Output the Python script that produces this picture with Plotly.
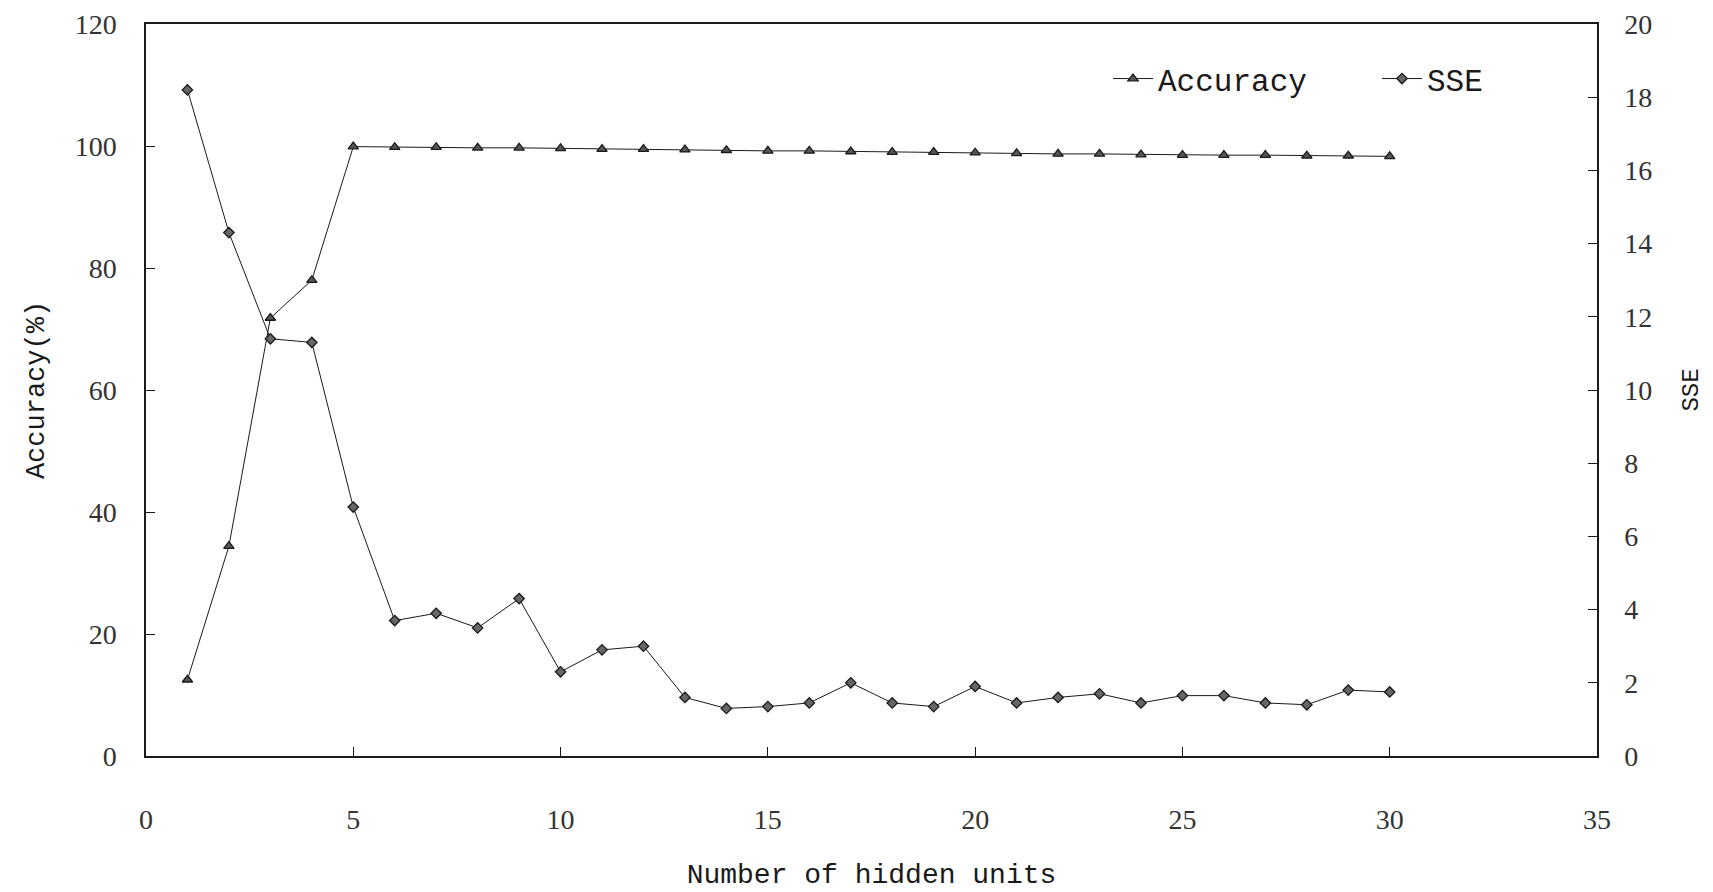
import plotly.graph_objects as go

hidden_units = list(range(1, 31))
accuracy = [12.5, 34.4, 71.8, 78.0, 99.9, 99.8, 99.8, 99.7, 99.7, 99.6,
            99.5, 99.5, 99.4, 99.3, 99.2, 99.2, 99.1, 99.0, 99.0, 98.9,
            98.8, 98.7, 98.7, 98.6, 98.5, 98.5, 98.5, 98.4, 98.4, 98.3]
sse = [18.2, 14.3, 11.4, 11.3, 6.8, 3.7, 3.9, 3.5, 4.3, 2.3,
       2.9, 3.0, 1.6, 1.3, 1.35, 1.45, 2.0, 1.45, 1.35, 1.9,
       1.45, 1.6, 1.7, 1.45, 1.65, 1.65, 1.45, 1.4, 1.8, 1.75]

FONT = "Liberation Mono"
TICKFONT = "Liberation Serif"
INK = "#1a1a1a"

fig = go.Figure()
fig.add_trace(go.Scatter(
    x=hidden_units, y=accuracy, name="Accuracy", mode="lines+markers",
    line=dict(color=INK, width=1),
    marker=dict(symbol="triangle-up", size=9, color="#555",
                line=dict(color=INK, width=1.3)),
    yaxis="y"))
fig.add_trace(go.Scatter(
    x=hidden_units, y=sse, name="SSE", mode="lines+markers",
    line=dict(color=INK, width=1),
    marker=dict(symbol="diamond", size=8, color="#666",
                line=dict(color=INK, width=1.3)),
    yaxis="y2"))

axis_common = dict(showgrid=False, zeroline=False, showline=True,
                   linecolor=INK, linewidth=1.5, ticks="inside",
                   ticklen=9, tickcolor=INK, tickwidth=1, automargin=False,
                   tickfont=dict(family=TICKFONT, size=28, color="#333"))

fig.update_layout(
    width=1713, height=892, autosize=False,
    margin=dict(l=146, r=116, t=24, b=136),
    paper_bgcolor="white", plot_bgcolor="white",
    font=dict(family=FONT, color=INK),
    xaxis=dict(range=[0, 35], dtick=5, tick0=0, mirror=True,
               ticklabelstandoff=38,
               title=dict(text="Number of hidden units",
                          font=dict(family=FONT, size=28, color=INK),
                          standoff=29),
               **axis_common),
    yaxis=dict(range=[0, 120], dtick=20, tick0=0, ticklabelstandoff=22,
               title=dict(text="Accuracy(%)",
                          font=dict(family=FONT, size=27, color=INK),
                          standoff=22),
               **axis_common),
    yaxis2=dict(range=[0, 20], dtick=2, tick0=0, overlaying="y",
                side="right", ticklabelstandoff=20,
                title=dict(text="SSE",
                           font=dict(family=FONT, size=24, color=INK),
                           standoff=30),
                **axis_common),
    legend=dict(orientation="h", x=0.663, y=0.925, xanchor="left",
                yanchor="middle", bgcolor="rgba(0,0,0,0)",
                font=dict(family=FONT, size=31, color=INK),
                itemwidth=40, entrywidth=214),
    showlegend=True,
)

fig.write_html("out.html")
